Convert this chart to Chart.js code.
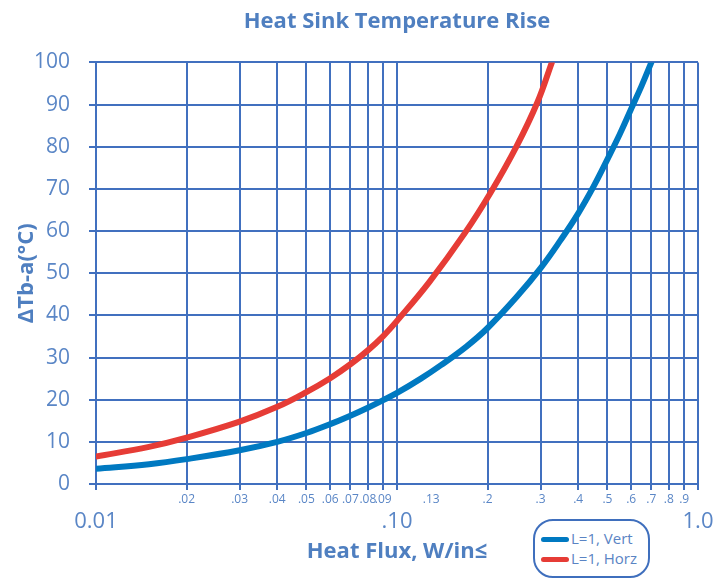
<!DOCTYPE html>
<html>
<head>
<meta charset="utf-8">
<title>Heat Sink Temperature Rise</title>
<script src="https://cdn.jsdelivr.net/npm/chart.js@4/dist/chart.umd.min.js"></script>
<style>
    html, body { margin: 0; padding: 0; background: #fff; }
    #wrap { position: relative; width: 717px; height: 580px; }
    #legend {
        position: absolute; left: 533px; top: 519px; width: 113px; height: 55px;
        border: 2px solid #3f6fbd; border-radius: 20px; background: #fff;
        font-family: 'Open Sans', sans-serif; font-size: 15px; color: #5a84c4;
    }
    #legend .item { position: absolute; left: 6px; height: 18px; line-height: 18px; white-space: nowrap; }
    #legend .swatch { display: inline-block; width: 28px; height: 5px; border-radius: 3px; vertical-align: middle; margin-right: 2px; }
</style>
</head>
<body>
<div id="wrap">
    <canvas id="myChart" width="717" height="580"></canvas>
    <div id="legend"></div>
</div>
<script>

// values
const vertFlux = [0.01, 0.015, 0.02, 0.03, 0.04, 0.05, 0.06, 0.07, 0.08, 0.09, 0.1, 0.12, 0.14, 0.17, 0.2, 0.25, 0.3, 0.35, 0.4, 0.45, 0.5, 0.55, 0.6, 0.65, 0.7];
const vertRise = [3.6, 4.7, 5.9, 8, 10, 12.1, 14.2, 16.2, 18.1, 19.9, 21.6, 25, 28.2, 32.6, 37, 44.4, 51.2, 57.9, 64.2, 70.6, 77, 83, 89, 94.5, 100];

const horzFlux = [0.01, 0.015, 0.02, 0.03, 0.04, 0.05, 0.06, 0.07, 0.08, 0.09, 0.1, 0.128, 0.168, 0.205, 0.25, 0.293, 0.327];
const horzRise = [6.5, 8.8, 11, 14.8, 18.3, 21.8, 25.1, 28.4, 31.7, 35.1, 38.7, 47.9, 59.5, 69.2, 80.2, 90.6, 100];

const seriesNames = ['L=1, Vert', 'L=1, Horz'];
const seriesColors = ['#0079c1', '#e63c36'];

const minorTicks = [0.01, 0.02, 0.03, 0.04, 0.05, 0.06, 0.07, 0.08, 0.09, 0.1, 0.13, 0.2, 0.3, 0.4, 0.5, 0.6, 0.7, 0.8, 0.9, 1];
const minorLabels = ['', '.02', '.03', '.04', '.05', '.06', '.07', '.08', '.09', '', '.13', '.2', '.3', '.4', '.5', '.6', '.7', '.8', '.9', ''];
const majorTicks = [0.01, 0.1, 1];
const majorLabels = ['0.01', '.10', '1.0'];
const yTicks = [0, 10, 20, 30, 40, 50, 60, 70, 80, 90, 100];

const gridBlue = '#4170bf';
const textBlue = '#5a86c6';
const titleBlue = '#4f7fc0';
const fontFamily = "'Open Sans', sans-serif";

const toPoints = (xs, ys) => xs.map((x, i) => ({ x: x, y: ys[i] }));

const ctx = document.getElementById('myChart').getContext('2d');

const data = {
    datasets: [
        {
            label: seriesNames[0],
            data: toPoints(vertFlux, vertRise),
            borderColor: seriesColors[0],
            backgroundColor: seriesColors[0],
        },
        {
            label: seriesNames[1],
            data: toPoints(horzFlux, horzRise),
            borderColor: seriesColors[1],
            backgroundColor: seriesColors[1],
        }
    ].map(ds => Object.assign(ds, {
        fill: false,
        borderWidth: 6,
        pointRadius: 0,
        borderCapStyle: 'round',
        tension: 0.4,
    }))
};

const chart = new Chart(ctx, {
    type: 'line',
    data: data,
    options: {
        responsive: false,
        animation: false,
        layout: { padding: { left: 0, right: 19, top: 0, bottom: 0 } },
        plugins: {
            legend: { display: false },
            tooltip: { enabled: false },
            title: {
                display: true,
                fullSize: false,
                text: 'Heat Sink Temperature Rise',
                color: titleBlue,
                font: { family: fontFamily, size: 22, weight: 'bold' },
                padding: { top: 9, bottom: 27 }
            }
        },
        scales: {
            x: {
                type: 'logarithmic',
                position: 'bottom',
                weight: 0,
                min: 0.01,
                max: 1,
                afterBuildTicks: (scale) => {
                    scale.ticks = minorTicks.map(v => ({ value: v }));
                },
                afterFit: (scale) => { scale.height = 22; },
                ticks: {
                    autoSkip: false,
                    maxRotation: 0,
                    padding: 2,
                    color: textBlue,
                    font: { family: fontFamily, size: 12 },
                    callback: (value) => {
                        const i = minorTicks.indexOf(value);
                        return i >= 0 ? minorLabels[i] : '';
                    }
                },
                grid: {
                    color: (c) => (c.tick && c.tick.value === 0.13) ? 'rgba(0,0,0,0)' : gridBlue,
                    lineWidth: 2,
                    tickLength: 6,
                },
                border: { color: gridBlue, width: 2 }
            },
            x2: {
                type: 'logarithmic',
                position: 'bottom',
                weight: 1,
                min: 0.01,
                max: 1,
                afterBuildTicks: (scale) => {
                    scale.ticks = majorTicks.map(v => ({ value: v }));
                },
                afterFit: (scale) => { scale.height = 74; },
                ticks: {
                    autoSkip: false,
                    maxRotation: 0,
                    padding: 3,
                    color: textBlue,
                    font: { family: fontFamily, size: 22 },
                    callback: (value) => {
                        const i = majorTicks.indexOf(value);
                        return i >= 0 ? majorLabels[i] : '';
                    }
                },
                grid: { display: false, drawTicks: false },
                border: { display: false },
                title: {
                    display: true,
                    text: 'Heat Flux, W/in≤',
                    color: titleBlue,
                    font: { family: fontFamily, size: 22, weight: 'bold' },
                    padding: { top: 0, bottom: 15 }
                }
            },
            y: {
                type: 'linear',
                min: 0,
                max: 100,
                afterBuildTicks: (scale) => {
                    scale.ticks = yTicks.map(v => ({ value: v }));
                },
                afterFit: (scale) => { scale.width = 96; },
                ticks: {
                    padding: 19,
                    color: textBlue,
                    font: { family: fontFamily, size: 21 },
                },
                grid: { color: gridBlue, lineWidth: 2, tickLength: 7 },
                border: { color: gridBlue, width: 2 },
                title: {
                    display: true,
                    text: 'ΔTb-a(°C)',
                    color: titleBlue,
                    font: { family: fontFamily, size: 22, weight: 'bold' },
                    padding: { top: 14, bottom: 0 }
                }
            }
        }
    }
});

// legend box in the lower right
const legendBox = document.getElementById('legend');
seriesNames.forEach((name, i) => {
    const item = document.createElement('div');
    item.className = 'item';
    item.style.top = (8 + i * 20) + 'px';
    item.innerHTML = '<span class="swatch" style="background:' + seriesColors[i] + '"></span>' + name;
    legendBox.appendChild(item);
});
</script>
</body>
</html>
